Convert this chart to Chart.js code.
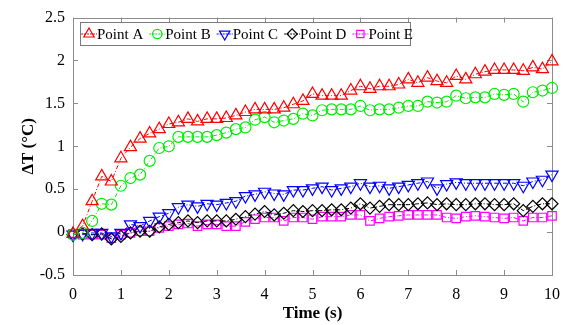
<!DOCTYPE html>
<html>
<head>
<meta charset="utf-8">
<script src="https://cdn.jsdelivr.net/npm/chart.js@4/dist/chart.umd.min.js"></script>
<style>
  html, body { margin: 0; padding: 0; background: #fff; }
  #chart { display: block; }
</style>
</head>
<body>
<canvas id="chart" width="570" height="325"></canvas>
<script>
//
// DATA
//

const times = [0, 0.2, 0.4, 0.6, 0.8, 1, 1.2, 1.4, 1.6, 1.8, 2, 2.2, 2.4, 2.6, 2.8, 3, 3.2, 3.4, 3.6, 3.8,
  4, 4.2, 4.4, 4.6, 4.8, 5, 5.2, 5.4, 5.6, 5.8, 6, 6.2, 6.4, 6.6, 6.8, 7, 7.2, 7.4, 7.6, 7.8,
  8, 8.2, 8.4, 8.6, 8.8, 9, 9.2, 9.4, 9.6, 9.8, 10];

const pointA = [-0.02, 0.07, 0.36, 0.65, 0.59, 0.86, 0.99, 1.09, 1.15, 1.20, 1.26, 1.28, 1.32, 1.29, 1.32, 1.32, 1.33,
  1.36, 1.40, 1.43, 1.43, 1.43, 1.45, 1.49, 1.53, 1.61, 1.59, 1.59, 1.59, 1.65, 1.70, 1.67, 1.70, 1.70, 1.72,
  1.78, 1.74, 1.80, 1.76, 1.74, 1.82, 1.78, 1.84, 1.87, 1.89, 1.89, 1.89, 1.88, 1.92, 1.90, 1.99];
const pointB = [-0.03, -0.01, 0.13, 0.33, 0.32, 0.54, 0.63, 0.67, 0.83, 0.98, 1.00, 1.11, 1.11, 1.11, 1.11, 1.13, 1.16,
  1.20, 1.22, 1.31, 1.34, 1.28, 1.30, 1.32, 1.38, 1.36, 1.42, 1.43, 1.43, 1.43, 1.47, 1.42, 1.43, 1.43, 1.45,
  1.47, 1.47, 1.52, 1.51, 1.52, 1.59, 1.56, 1.57, 1.57, 1.61, 1.60, 1.61, 1.52, 1.63, 1.65, 1.68];
const pointC = [-0.03, -0.02, -0.01, -0.01, -0.05, -0.01, 0.09, 0.07, 0.13, 0.18, 0.22, 0.29, 0.32, 0.30, 0.33, 0.32, 0.34,
  0.36, 0.42, 0.44, 0.47, 0.45, 0.44, 0.49, 0.49, 0.51, 0.53, 0.49, 0.51, 0.53, 0.57, 0.53, 0.54, 0.51, 0.53,
  0.55, 0.57, 0.59, 0.51, 0.56, 0.58, 0.57, 0.57, 0.57, 0.57, 0.57, 0.57, 0.54, 0.59, 0.61, 0.67];
const pointD = [-0.03, -0.02, -0.03, -0.02, -0.08, -0.05, -0.01, 0.01, 0.01, 0.06, 0.09, 0.11, 0.13, 0.11, 0.13, 0.13, 0.13,
  0.15, 0.18, 0.21, 0.24, 0.20, 0.22, 0.25, 0.24, 0.25, 0.25, 0.26, 0.26, 0.28, 0.33, 0.28, 0.30, 0.32, 0.32,
  0.32, 0.33, 0.34, 0.32, 0.33, 0.32, 0.32, 0.33, 0.33, 0.32, 0.32, 0.33, 0.25, 0.30, 0.33, 0.33];
const pointE = [-0.02, -0.03, -0.03, -0.03, -0.07, -0.03, -0.01, 0.01, 0.01, 0.05, 0.07, 0.09, 0.10, 0.07, 0.09, 0.09, 0.07,
  0.07, 0.12, 0.15, 0.17, 0.17, 0.13, 0.17, 0.17, 0.15, 0.18, 0.18, 0.18, 0.20, 0.20, 0.13, 0.16, 0.18, 0.19,
  0.20, 0.20, 0.20, 0.20, 0.17, 0.16, 0.18, 0.19, 0.18, 0.17, 0.16, 0.17, 0.13, 0.17, 0.17, 0.19];

const seriesNames = ["Point A", "Point B", "Point C", "Point D", "Point E"];
const xTicks = [0, 1, 2, 3, 4, 5, 6, 7, 8, 9, 10];
const yTicks = [-0.5, 0, 0.5, 1, 1.5, 2, 2.5];

//
// STYLE
//

const FONT = "'Liberation Serif', 'Times New Roman', serif";
const styles = [
  { color: "#ff0000", pointStyle: "triangle", radius: 7, rotation: 0 },
  { color: "#00ee00", pointStyle: "circle", radius: 5.5, rotation: 0 },
  { color: "#0000ff", pointStyle: "triangle", radius: 7, rotation: 180 },
  { color: "#000000", pointStyle: "rectRot", radius: 6, rotation: 0 },
  { color: "#ff00ff", pointStyle: "rect", radius: 6, rotation: 0 },
];
const DASH = [4, 2, 1, 2];

function makeDataset(name, values, st) {
  return {
    label: name,
    data: times.map((t, i) => ({ x: t, y: values[i] })),
    borderColor: st.color,
    backgroundColor: "rgba(0,0,0,0)",
    borderWidth: 1,
    borderDash: DASH,
    pointStyle: st.pointStyle,
    pointRadius: st.radius,
    pointRotation: st.rotation,
    pointBorderColor: st.color,
    pointBackgroundColor: "rgba(0,0,0,0)",
    pointBorderWidth: 1.2,
    tension: 0,
    clip: false,
  };
}

const allSeries = [pointA, pointB, pointC, pointD, pointE];

//
// PLUGINS
//

// box around the plot with inward ticks on all four sides
const frameBox = {
  id: "frameBox",
  beforeDatasetsDraw(chart) {
    const { ctx, chartArea: a, scales } = chart;
    ctx.save();
    ctx.strokeStyle = "#8c8c8c";
    ctx.lineWidth = 1;
    ctx.strokeRect(Math.round(a.left) + 0.5, Math.round(a.top) + 0.5,
      Math.round(a.right - a.left), Math.round(a.bottom - a.top));
    ctx.beginPath();
    xTicks.forEach((v) => {
      const x = Math.round(scales.x.getPixelForValue(v)) + 0.5;
      ctx.moveTo(x, a.bottom); ctx.lineTo(x, a.bottom - 5);
      ctx.moveTo(x, a.top); ctx.lineTo(x, a.top + 5);
    });
    yTicks.forEach((v) => {
      const y = Math.round(scales.y.getPixelForValue(v)) + 0.5;
      ctx.moveTo(a.left, y); ctx.lineTo(a.left + 5, y);
      ctx.moveTo(a.right, y); ctx.lineTo(a.right - 5, y);
    });
    ctx.stroke();
    ctx.restore();
  },
};

// MATLAB-like legend box inside the top-left of the plot
const insideLegend = {
  id: "insideLegend",
  afterDatasetsDraw(chart) {
    const { ctx } = chart;
    const left = 80, top = 22, h = 23, w = 330;
    ctx.save();
    ctx.fillStyle = "#fff";
    ctx.fillRect(left, top, w, h);
    ctx.strokeStyle = "#7a7a7a";
    ctx.lineWidth = 1;
    ctx.strokeRect(left + 0.5, top + 0.5, w, h);
    ctx.font = "15px " + FONT;
    ctx.textBaseline = "middle";
    const cy = top + h / 2 + 0.5;
    let mx = left + 9;
    chart.data.datasets.forEach((ds, i) => {
      const st = styles[i];
      ctx.strokeStyle = st.color;
      ctx.lineWidth = 1;
      ctx.setLineDash([2, 1]);
      ctx.beginPath();
      ctx.moveTo(mx - 8, cy); ctx.lineTo(mx + 8, cy);
      ctx.stroke();
      ctx.setLineDash([]);
      ctx.fillStyle = "rgba(0,0,0,0)";
      ctx.lineWidth = 1.2;
      Chart.helpers.drawPoint(ctx, {
        pointStyle: st.pointStyle,
        radius: st.radius * 0.85,
        rotation: st.rotation,
        borderWidth: 1.2,
      }, mx, cy);
      ctx.fillStyle = "#000";
      ctx.textAlign = "left";
      const tx = mx + 8;
      ctx.fillText(ds.label, tx, cy + 1);
      mx = tx + ctx.measureText(ds.label).width + 14;
    });
    ctx.restore();
  },
};

//
// CHART
//

new Chart(document.getElementById("chart"), {
  type: "line",
  data: {
    datasets: seriesNames.map((n, i) => makeDataset(n, allSeries[i], styles[i])),
  },
  options: {
    responsive: false,
    animation: false,
    devicePixelRatio: 1,
    layout: { padding: { top: 15, right: 17, left: 0, bottom: 0 } },
    plugins: {
      legend: { display: false },
      tooltip: { enabled: false },
    },
    scales: {
      x: {
        type: "linear",
        min: 0,
        max: 10,
        afterBuildTicks: (s) => { s.ticks = xTicks.map((v) => ({ value: v })); },
        afterFit: (s) => { s.height = 50; },
        grid: { display: false, drawTicks: false },
        border: { display: false },
        ticks: {
          color: "#000",
          font: { family: FONT, size: 16 },
          padding: 10,
          maxRotation: 0,
        },
        title: {
          display: true,
          text: "Time (s)",
          color: "#000",
          font: { family: FONT, size: 17, weight: "bold" },
          padding: { top: 0, bottom: 1 },
        },
      },
      y: {
        type: "linear",
        min: -0.5,
        max: 2.5,
        afterBuildTicks: (s) => { s.ticks = yTicks.map((v) => ({ value: v })); },
        afterFit: (s) => { s.width = 73; },
        grid: { display: false, drawTicks: false },
        border: { display: false },
        ticks: {
          color: "#000",
          font: { family: FONT, size: 16 },
          padding: 8,
          callback: (v) => String(v),
        },
        title: {
          display: true,
          text: "ΔT (°C)",
          color: "#000",
          font: { family: FONT, size: 17, weight: "bold" },
          padding: { top: 18, bottom: 0 },
        },
      },
    },
  },
  plugins: [frameBox, insideLegend],
});
</script>
</body>
</html>
